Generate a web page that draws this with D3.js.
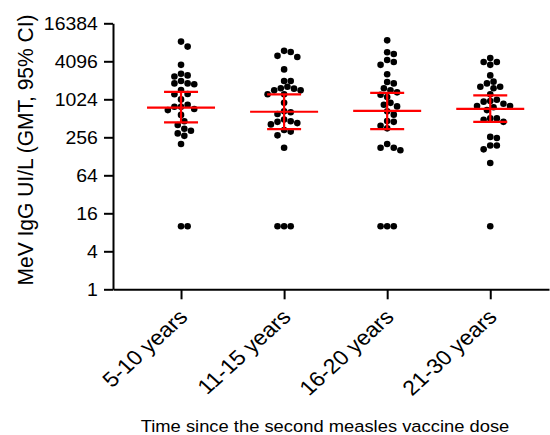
<!DOCTYPE html>
<html>
<head>
<meta charset="utf-8">
<script src="https://cdn.jsdelivr.net/npm/d3@7"></script>
<style>
  body { margin: 0; background: #fff; }
  text { font-family: Arial, "Liberation Sans", sans-serif; fill: #000; }
</style>
</head>
<body>
<div id="chart"></div>
<script>
// groups on the x axis
const groups = ["5-10 years", "11-15 years", "16-20 years", "21-30 years"];

// individual titres per group (UI/L)
const g1 = [8400, 7000, 3600, 2600, 2450, 2350, 2000, 1830, 1770, 1830, 1440, 1240, 1230, 1020,
            840, 780, 780, 720, 690, 580, 460, 400, 350, 325, 295, 270, 200, 10, 10];
const g2 = [6000, 5750, 5000, 4800, 3050, 2000, 2000, 1620, 1530, 1510, 1420, 1420, 1230, 1230,
            900, 660, 640, 600, 490, 460, 450, 430, 410, 335, 315, 275, 175, 10, 10, 10];
const g3 = [8800, 5700, 5350, 4300, 4000, 3600, 2550, 1920, 1830, 1530, 1420, 1320, 1210, 1110,
            900, 840, 790, 660, 585, 465, 450, 390, 355, 200, 175, 175, 160, 10, 10, 10];
const g4 = [4600, 4000, 4000, 3600, 2450, 1950, 1830, 1620, 1620, 1530, 1230, 1010, 960, 940,
            870, 800, 800, 765, 690, 510, 510, 485, 450, 260, 250, 190, 190, 165, 100, 10];
const values = [g1, g2, g3, g4];

// GMT and 95% CI
const gmt = [755, 650, 670, 720];
const ciLow = [440, 345, 345, 450];
const ciHigh = [1340, 1230, 1290, 1185];

const yTicks = [1, 4, 16, 64, 256, 1024, 4096, 16384];

const width = 550, height = 435;
const SX = 1.08; // picture is a little stretched horizontally

const svg = d3.select("#chart").append("svg")
    .attr("width", width)
    .attr("height", height);

const y = d3.scaleLog().base(2)
    .domain([1, 16384])
    .range([289.3, 23.3]);

const x = d3.scaleLinear()
    .domain([-0.66, 3.57])
    .range([113, 549]);

// y axis
const yAxis = svg.append("g")
    .attr("transform", "translate(113,0)")
    .call(d3.axisLeft(y).tickValues(yTicks).tickFormat(d3.format("d"))
        .tickSize(9).tickSizeOuter(0).tickPadding(5));
yAxis.selectAll("path, line").attr("stroke", "#000").attr("stroke-width", 2);
yAxis.selectAll("text")
    .style("font-size", "18px")
    .attr("transform", `scale(${SX},1)`)
    .attr("fill", "#000");

// x axis, labels drawn separately below
const xAxis = svg.append("g")
    .attr("transform", `translate(0,${y(1)})`)
    .call(d3.axisBottom(x).tickValues([0, 1, 2, 3]).tickFormat("")
        .tickSize(10).tickSizeOuter(0));
xAxis.selectAll("path, line").attr("stroke", "#000").attr("stroke-width", 2);

svg.append("g").selectAll("g")
  .data(groups)
  .join("g")
    .attr("transform", (d, i) => `translate(${x(i) + 8},${y(1) + 29}) scale(1.1,1) rotate(-45)`)
  .append("text")
    .attr("text-anchor", "end")
    .style("font-size", "21px")
    .text(d => d);

// simple beeswarm: nearest free offset for each dot, biggest values first
const r = 3.3, minDist = 6.6, step = 3.3;
function swarm(vals) {
  const placed = [];
  const sorted = vals.slice().sort((a, b) => b - a);
  for (const v of sorted) {
    const py = y(v);
    let off = 0;
    for (let k = 0; k < 40; k++) {
      const cand = k === 0 ? 0 : (k % 2 ? 1 : -1) * Math.ceil(k / 2) * step;
      const hit = placed.some(p => Math.hypot(p.dx - cand, p.y - py) < minDist);
      if (!hit) { off = cand; break; }
    }
    placed.push({ v: v, y: py, dx: off });
  }
  return placed;
}

values.forEach((vals, i) => {
  const pts = swarm(vals);
  svg.append("g").selectAll("circle")
    .data(pts)
    .join("circle")
      .attr("cx", d => x(i) + d.dx)
      .attr("cy", d => y(d.v))
      .attr("r", r)
      .attr("fill", "#000");
});

// GMT with CI
const red = "#ff0000";
const err = svg.append("g").attr("stroke", red).attr("stroke-width", 2.2);
groups.forEach((g, i) => {
  const cx = x(i);
  err.append("line").attr("x1", cx - 34).attr("x2", cx + 34)
    .attr("y1", y(gmt[i])).attr("y2", y(gmt[i]));
  err.append("line").attr("x1", cx).attr("x2", cx)
    .attr("y1", y(ciLow[i])).attr("y2", y(ciHigh[i]));
  err.append("line").attr("x1", cx - 17).attr("x2", cx + 17)
    .attr("y1", y(ciLow[i])).attr("y2", y(ciLow[i]));
  err.append("line").attr("x1", cx - 17).attr("x2", cx + 17)
    .attr("y1", y(ciHigh[i])).attr("y2", y(ciHigh[i]));
});

// axis titles
svg.append("g")
    .attr("transform", `translate(325,432) scale(${SX},1)`)
  .append("text")
    .attr("text-anchor", "middle")
    .style("font-size", "17px")
    .text("Time since the second measles vaccine dose");

svg.append("g")
    .attr("transform", `translate(33,150) scale(${SX},1) rotate(-90)`)
  .append("text")
    .attr("text-anchor", "middle")
    .style("font-size", "21px")
    .text("MeV IgG UI/L (GMT, 95% CI)");
</script>
</body>
</html>
